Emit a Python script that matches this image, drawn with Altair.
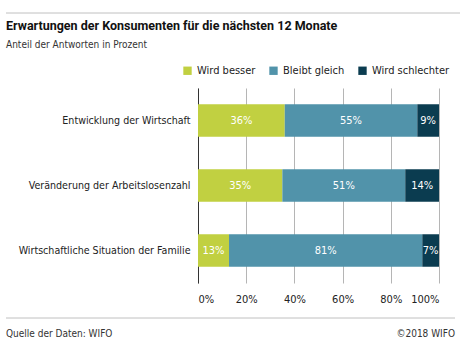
import altair as alt
import pandas as pd

categories = ["Entwicklung der Wirtschaft", "Veränderung der Arbeitslosenzahl", "Wirtschaftliche Situation der Familie"]
series = ["Wird besser", "Bleibt gleich", "Wird schlechter"]
besser = [36, 35, 13]
gleich = [55, 51, 81]
schlechter = [9, 14, 7]
colors = ["#c1d041", "#5193aa", "#0b3c50"]
x_ticks = [0, 0.2, 0.4, 0.6, 0.8, 1.0]

title_text = "Erwartungen der Konsumenten für die nächsten 12 Monate"
subtitle_text = "Anteil der Antworten in Prozent"
source_text = "Quelle der Daten: WIFO"
copyright_text = "©2018 WIFO"

FONT = "DejaVu Sans Condensed, sans-serif"
TITLE_FONT = "Roboto, sans-serif"

rows = []
for i, c in enumerate(categories):
    for j, (s, vals) in enumerate(zip(series, [besser, gleich, schlechter])):
        rows.append({"Kategorie": c, "Serie": s, "Wert": vals[i], "Ordnung": j})
df = pd.DataFrame(rows)

base = alt.Chart(df).transform_calculate(label="datum.Wert + '%'")

bars = base.mark_bar().encode(
    y=alt.Y("Kategorie:N", sort=categories,
            scale=alt.Scale(paddingInner=0.5, paddingOuter=0.25),
            axis=alt.Axis(title=None, ticks=False, labelPadding=8, domainColor="#333333",
                          labelFontSize=10.6, labelColor="#222222", labelFont=FONT, grid=False)),
    x=alt.X("Wert:Q", stack="normalize",
            axis=alt.Axis(title=None, values=x_ticks, format=".0%", grid=True, gridColor="#b5b5b5",
                          domain=False, ticks=False, labelPadding=10, labelFontSize=11,
                          labelColor="#222222", labelFont=FONT)),
    color=alt.Color("Serie:N", sort=series,
                    scale=alt.Scale(domain=series, range=colors),
                    legend=alt.Legend(title=None, orient="none", direction="horizontal",
                                      legendX=-16, legendY=-23, symbolType="square",
                                      symbolSize=70, symbolStrokeWidth=0, labelFontSize=11,
                                      labelFont=FONT, labelColor="#222222", columnPadding=12,
                                      labelOffset=4, symbolOpacity=1)),
    order=alt.Order("Ordnung:Q"),
)

labels = base.mark_text(color="white", fontSize=11, font=FONT).encode(
    y=alt.Y("Kategorie:N", sort=categories),
    x=alt.X("Wert:Q", stack="normalize", bandPosition=0.5),
    detail="Serie:N",
    order=alt.Order("Ordnung:Q"),
    text="label:N",
)

one = pd.DataFrame({"k": [0]})

top_rule = alt.Chart(one).mark_rule(color="#c0c0c0", strokeWidth=1).encode(
    x=alt.value(-192), x2=alt.value(262), y=alt.value(-75))
bottom_rule = alt.Chart(one).mark_rule(color="#c0c0c0", strokeWidth=1).encode(
    x=alt.value(-192), x2=alt.value(257), y=alt.value(230))

title = alt.Chart(pd.DataFrame({"t": [title_text]})).mark_text(
    align="left", baseline="alphabetic", fontSize=12.5, fontWeight="bold", font=TITLE_FONT, color="#111111"
).encode(x=alt.value(-192), y=alt.value(-58), text="t:N")
subtitle = alt.Chart(pd.DataFrame({"t": [subtitle_text]})).mark_text(
    align="left", baseline="alphabetic", fontSize=10, font=FONT, color="#333333"
).encode(x=alt.value(-192), y=alt.value(-40), text="t:N")
source = alt.Chart(pd.DataFrame({"t": [source_text]})).mark_text(
    align="left", baseline="alphabetic", fontSize=10, font=FONT, color="#333333"
).encode(x=alt.value(-192), y=alt.value(249), text="t:N")
copyright = alt.Chart(pd.DataFrame({"t": [copyright_text]})).mark_text(
    align="right", baseline="alphabetic", fontSize=10, font=FONT, color="#333333"
).encode(x=alt.value(257), y=alt.value(249), text="t:N")

chart = alt.layer(bars, labels, top_rule, bottom_rule, title, subtitle, source, copyright).properties(
    width=241, height=195,
    padding={"left": 198, "top": 88, "right": 21, "bottom": 57},
    autosize=alt.AutoSizeParams(type="none"),
).configure_view(stroke=None)

chart.save("out.html", embed_options={"renderer": "svg", "actions": False})
